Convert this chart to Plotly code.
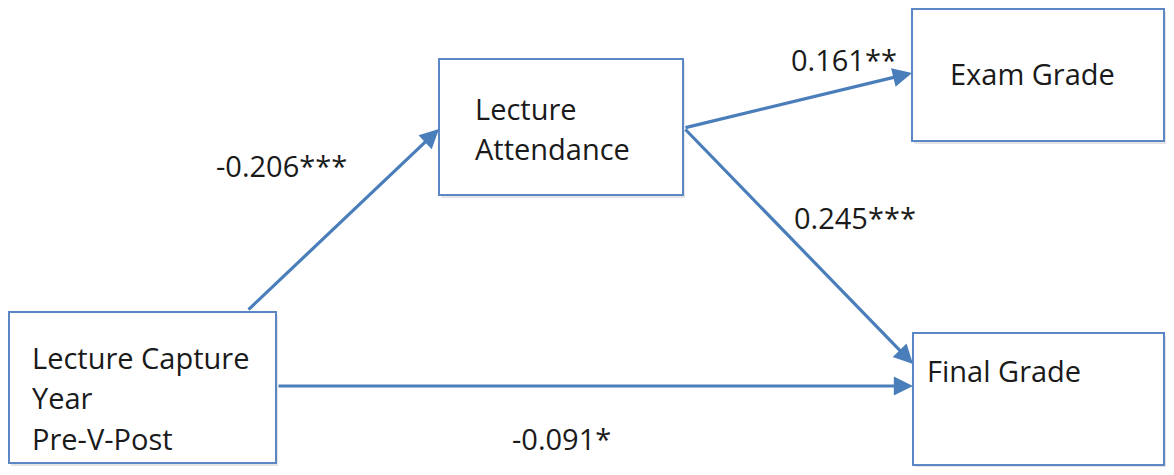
import plotly.graph_objects as go

# Nodes of the path diagram
node_names = ["capture", "attendance", "exam", "final"]
node_labels = [
    ["Lecture Capture", "Year", "Pre-V-Post"],
    ["Lecture", "Attendance"],
    ["Exam Grade"],
    ["Final Grade"],
]
# box extents (pixel coordinates of the canvas: x0, x1, y0, y1)
box_x0 = [9, 439, 912, 913]
box_x1 = [276, 683, 1164, 1164]
box_y0 = [312, 59, 9, 333]
box_y1 = [463, 195, 141, 465]
# text anchor positions for each node (left x, first-line y, line spacing)
text_x = [30, 473, 948, 925]
text_y = [357, 108, 73, 370]
line_gap = [40.5, 40, 0, 0]

# Paths (edges) with coefficient labels
edge_from = ["capture", "attendance", "attendance", "capture"]
edge_to = ["attendance", "exam", "final", "final"]
coefficients = ["-0.206***", "0.161**", "0.245***", "-0.091*"]
# edge geometry
edge_x0 = [247, 684, 684, 277]
edge_y0 = [311, 128, 128, 386]
edge_x1 = [439, 912, 913, 913]
edge_y1 = [129, 73, 364, 386]
label_x = [281, 844, 855, 561]
label_y = [165, 59, 217, 438]

BLUE = "#4a7ebb"
BOX = "#5b87c5"
FONT = "Open Sans, Lato, sans-serif"
FSIZE = 29
OFF = 8  # page body margin compensation
W, H = 1174 - 2 * OFF, 475 - 2 * OFF

fig = go.Figure()
fig.add_trace(go.Scatter(x=[OFF, OFF + W], y=[OFF, OFF + H], mode="markers",
                         marker=dict(opacity=0), hoverinfo="skip", showlegend=False))

shapes = []
annotations = []
for i in range(len(node_names)):
    shapes.append(dict(type="rect", xref="x", yref="y",
                       x0=box_x0[i] + 2, x1=box_x1[i] + 2, y0=box_y0[i] + 3, y1=box_y1[i] + 3,
                       line=dict(width=0), fillcolor="rgba(0,0,0,0.10)", layer="below"))
    shapes.append(dict(type="rect", xref="x", yref="y",
                       x0=box_x0[i], x1=box_x1[i], y0=box_y0[i], y1=box_y1[i],
                       line=dict(color=BOX, width=2), fillcolor="white", layer="below"))
    for j, t in enumerate(node_labels[i]):
        annotations.append(dict(x=text_x[i], y=text_y[i] + j * line_gap[i], xref="x", yref="y",
                                text=t, showarrow=False, xanchor="left", yanchor="middle",
                                font=dict(family=FONT, size=FSIZE, color="#1a1a1a")))

for k in range(len(edge_from)):
    annotations.append(dict(x=edge_x1[k], y=edge_y1[k], ax=edge_x0[k], ay=edge_y0[k],
                            xref="x", yref="y", axref="x", ayref="y",
                            text="", showarrow=True, arrowhead=2, arrowsize=1.2,
                            arrowwidth=3.2, arrowcolor=BLUE, standoff=0))
    annotations.append(dict(x=label_x[k], y=label_y[k], xref="x", yref="y",
                            text=coefficients[k], showarrow=False,
                            xanchor="center", yanchor="middle",
                            font=dict(family=FONT, size=FSIZE, color="#1a1a1a")))

fig.update_layout(
    width=W, height=H,
    margin=dict(l=0, r=0, t=0, b=0),
    paper_bgcolor="white", plot_bgcolor="white",
    xaxis=dict(range=[OFF, OFF + W], visible=False, fixedrange=True),
    yaxis=dict(range=[OFF + H, OFF], visible=False, fixedrange=True),
    shapes=shapes, annotations=annotations,
    showlegend=False,
)
fig.write_html("out.html")
